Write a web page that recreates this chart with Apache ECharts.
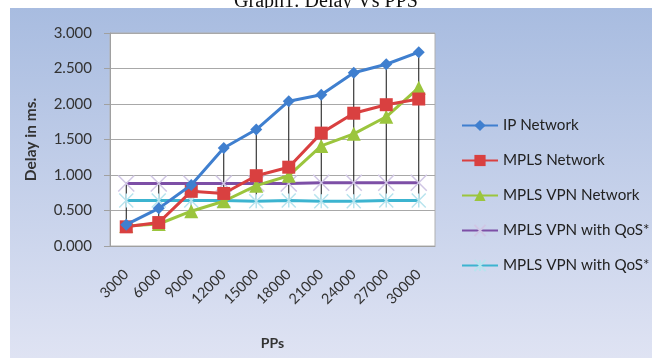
<!DOCTYPE html>
<html><head><meta charset="utf-8">
<script src="https://cdn.jsdelivr.net/npm/echarts@6/dist/echarts.min.js"></script>
<style>html,body{margin:0;padding:0;background:#fff}#c{width:652px;height:358px}</style>
</head><body><div id="c"></div>
<script>
const categories = ['3000','6000','9000','12000','15000','18000','21000','24000','27000','30000'];
const ipNetwork   = [0.30, 0.53, 0.86, 1.38, 1.64, 2.04, 2.13, 2.44, 2.56, 2.73];
const mplsNetwork = [0.27, 0.33, 0.77, 0.74, 0.99, 1.11, 1.59, 1.87, 1.99, 2.07];
const mplsVpn     = [0.28, 0.31, 0.49, 0.63, 0.85, 0.99, 1.41, 1.58, 1.82, 2.23];
const vpnQos1     = [0.88, 0.88, 0.88, 0.88, 0.88, 0.88, 0.89, 0.89, 0.89, 0.89];
const vpnQos2     = [0.64, 0.64, 0.64, 0.64, 0.63, 0.64, 0.63, 0.63, 0.64, 0.64];
const yTicks = ['0.000','0.500','1.000','1.500','2.000','2.500','3.000'];
// second QoS name carries a trailing space so the legend keeps both entries
const seriesNames = ['IP Network','MPLS Network','MPLS VPN Network','MPLS VPN with QoS*','MPLS VPN with QoS* '];

const allSeries = [ipNetwork, mplsNetwork, mplsVpn, vpnQos1, vpnQos2];
const hiLo = categories.map((c, i) => {
  const vals = allSeries.map(s => s[i]);
  return [i, Math.max(...vals), Math.min(...vals)];
});

const xPath = 'path://M0,0 L10,10 M10,0 L0,10';
const starPath = 'path://M0,0 L10,10 M10,0 L0,10 M5,0 L5,10';

const chart = echarts.init(document.getElementById('c'));
chart.setOption({
  animation: false,
  textStyle: { fontFamily: 'Lato, "Open Sans", sans-serif' },
  graphic: [
    { type: 'text', left: 'center', top: -8, z: -20,
      style: { text: 'Graph1: Delay Vs PPS', fontFamily: '"Liberation Serif", serif', fontSize: 20, fill: '#111' } },
    { type: 'rect', shape: { x: 10, y: 8, width: 642, height: 350 }, z: -10,
      style: { fill: new echarts.graphic.LinearGradient(0, 0, 0, 1, [
        { offset: 0, color: '#a8bce0' }, { offset: 1, color: '#dfe3f3' }]) } }
  ],
  grid: { left: 110, right: 217, top: 33, bottom: 112, show: true, backgroundColor: '#ffffff', borderColor: '#b0b0b0', borderWidth: 1 },
  legend: {
    orient: 'vertical', left: 456, top: 113, itemWidth: 36, itemHeight: 14, itemGap: 20,
    data: seriesNames.slice(),
    textStyle: { fontSize: 15.2, color: '#222', fontFamily: 'Lato, sans-serif' }
  },
  xAxis: {
    type: 'category', data: categories, boundaryGap: true,
    axisLine: { lineStyle: { color: '#a0a0a0' } }, axisTick: { show: false },
    axisLabel: { rotate: 45, fontSize: 14.5, color: '#333', margin: 26 },
    name: 'PPs', nameLocation: 'middle', nameGap: 90,
    nameTextStyle: { fontWeight: 'bold', fontSize: 14, color: '#333' }
  },
  yAxis: {
    type: 'value', min: 0, max: 3, interval: 0.5,
    axisLine: { show: true, lineStyle: { color: '#a0a0a0' } },
    axisTick: { show: true, length: 6, lineStyle: { color: '#a0a0a0' } },
    splitLine: { lineStyle: { color: '#a8a8a8', width: 1 } },
    axisLabel: { fontSize: 15, color: '#333', margin: 18, formatter: (v) => yTicks[Math.round(v / 0.5)] },
    name: 'Delay in ms.', nameLocation: 'middle', nameGap: 71,
    nameTextStyle: { fontWeight: 'bold', fontSize: 15.5, color: '#333' }
  },
  series: [
    { type: 'custom', name: 'hilo', data: hiLo, z: 1, silent: true,
      renderItem: (params, api) => {
        const p1 = api.coord([api.value(0), api.value(1)]);
        const p2 = api.coord([api.value(0), api.value(2)]);
        return { type: 'line', shape: { x1: p1[0], y1: p1[1], x2: p2[0], y2: p2[1] }, style: { stroke: '#111', lineWidth: 1 } };
      } },
    { type: 'line', name: seriesNames[4], data: vpnQos2, z: 2, symbol: starPath, symbolSize: 14,
      itemStyle: { color: '#b8e4ee', borderColor: '#b8e4ee', borderWidth: 1.5 }, lineStyle: { color: '#3cb4d0', width: 3 } },
    { type: 'line', name: seriesNames[3], data: vpnQos1, z: 3, symbol: xPath, symbolSize: 16,
      itemStyle: { color: '#d8d0e8', borderColor: '#d0c6e4', borderWidth: 1.5 }, lineStyle: { color: '#7d4fa6', width: 3 } },
    { type: 'line', name: seriesNames[2], data: mplsVpn, z: 4, symbol: 'triangle', symbolSize: 14,
      itemStyle: { color: '#9bc53d' }, lineStyle: { color: '#9bc53d', width: 3 } },
    { type: 'line', name: seriesNames[1], data: mplsNetwork, z: 5, symbol: 'rect', symbolSize: 13,
      itemStyle: { color: '#d94040' }, lineStyle: { color: '#d94040', width: 3 } },
    { type: 'line', name: seriesNames[0], data: ipNetwork, z: 6, symbol: 'diamond', symbolSize: 12,
      itemStyle: { color: '#3f7fcf' }, lineStyle: { color: '#3f7fcf', width: 3 } }
  ]
});
</script></body></html>
